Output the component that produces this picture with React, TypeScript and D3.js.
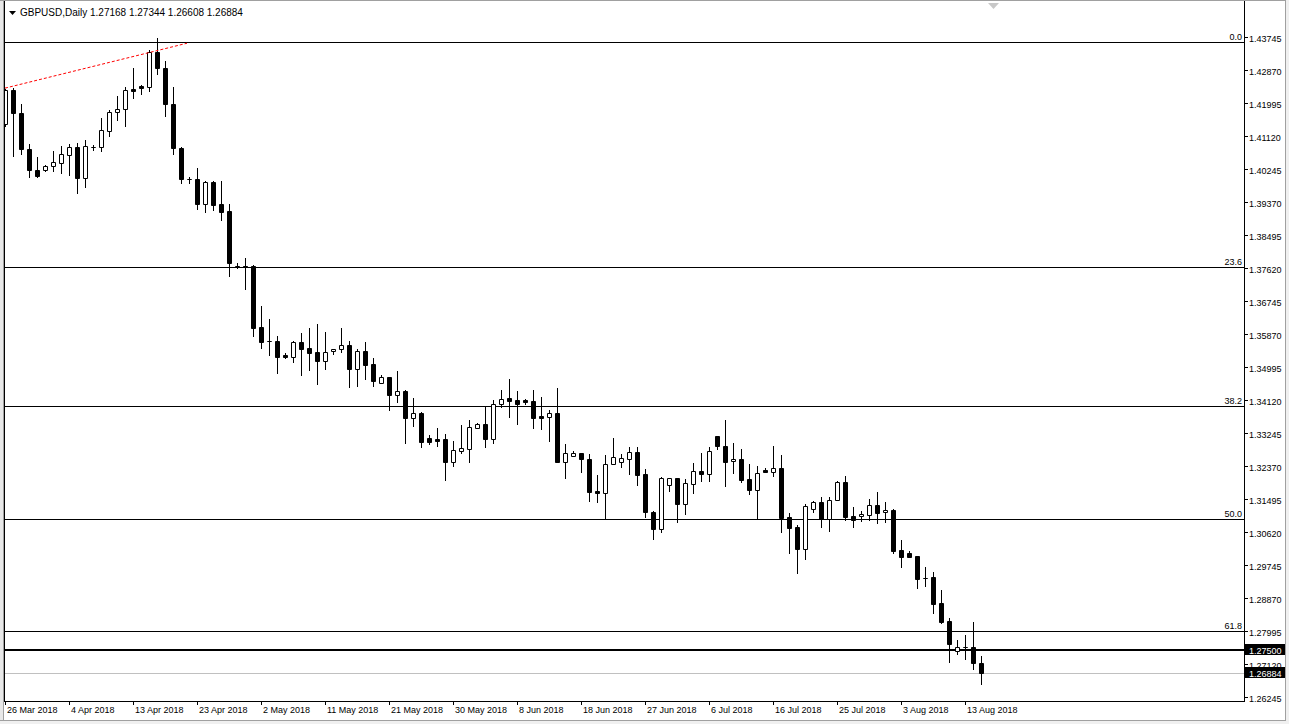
import React from "react";
import * as d3 from "d3";

// daily GBPUSD bars (broker with Sunday bars), from 26 Mar 2018
const opens = [
  1.4144, 1.4234, 1.4173, 1.4078, 1.4022, 1.4022, 1.4033, 1.4041, 1.4062, 1.4083,
  1.4001, 1.4083, 1.4083, 1.4125, 1.4176, 1.4184, 1.4237, 1.4245, 1.4242, 1.4335,
  1.4292, 1.4197, 1.408, 1.3998, 1.3998, 1.3932, 1.399, 1.3932, 1.3913, 1.3768,
  1.3768, 1.3768, 1.3606, 1.3569, 1.3569, 1.3532, 1.3526, 1.3566, 1.355, 1.354,
  1.3516, 1.3542, 1.3548, 1.3558, 1.3495, 1.3542, 1.3508, 1.3458, 1.3473, 1.3426,
  1.3436, 1.3365, 1.3378, 1.3312, 1.3309, 1.3309, 1.3248, 1.3277, 1.3283, 1.3338,
  1.3349, 1.3309, 1.3402, 1.3418, 1.3413, 1.3413, 1.341, 1.337, 1.3367, 1.3378,
  1.3248, 1.3264, 1.3272, 1.3256, 1.3171, 1.3166, 1.3243, 1.3248, 1.3256, 1.3275,
  1.3216, 1.3116, 1.3071, 1.3187, 1.3206, 1.3137, 1.319, 1.3224, 1.3216, 1.3317,
  1.3291, 1.3251, 1.3256, 1.3203, 1.3174, 1.3227, 1.3222, 1.3232, 1.3102, 1.3076,
  1.3018, 1.3124, 1.3142, 1.3097, 1.3148, 1.3195, 1.3105, 1.3105, 1.3108, 1.3134,
  1.3116, 1.3121, 1.3015, 1.3007, 1.2999, 1.2941, 1.2943, 1.2875, 1.2827, 1.2747,
  1.2758, 1.2758, 1.27168,
];
const highs = [
  1.4237, 1.4239, 1.4197, 1.4091, 1.4056, 1.4035, 1.4072, 1.4086, 1.4091, 1.4094,
  1.4102, 1.4088, 1.416, 1.4181, 1.4218, 1.4242, 1.4292, 1.4246, 1.434, 1.4372,
  1.4311, 1.4242, 1.4083, 1.4003, 1.4027, 1.3993, 1.3993, 1.3993, 1.3932, 1.3776,
  1.3789, 1.377, 1.3662, 1.3627, 1.3582, 1.3537, 1.3569, 1.359, 1.3603, 1.3614,
  1.3593, 1.3548, 1.3603, 1.3569, 1.3548, 1.3566, 1.3524, 1.3479, 1.3474, 1.3489,
  1.3439, 1.3418, 1.3381, 1.332, 1.3338, 1.3322, 1.3304, 1.3346, 1.336, 1.3352,
  1.3394, 1.3413, 1.3439, 1.3468, 1.3436, 1.3414, 1.3439, 1.342, 1.3386, 1.3444,
  1.3296, 1.3277, 1.3273, 1.3269, 1.3214, 1.3267, 1.3312, 1.3269, 1.3288, 1.3288,
  1.323, 1.3118, 1.3208, 1.3207, 1.3207, 1.3203, 1.3246, 1.3272, 1.3288, 1.3318,
  1.336, 1.3299, 1.3283, 1.3243, 1.3238, 1.3232, 1.3291, 1.3267, 1.3113, 1.3081,
  1.3137, 1.3145, 1.3155, 1.3155, 1.3198, 1.3211, 1.3129, 1.3118, 1.315, 1.3169,
  1.3142, 1.3124, 1.3042, 1.3012, 1.3, 1.297, 1.2957, 1.2909, 1.2835, 1.2777,
  1.279, 1.2824, 1.27344,
];
const lows = [
  1.4139, 1.4059, 1.4064, 1.4003, 1.4003, 1.4019, 1.4019, 1.4014, 1.4009, 1.3961,
  1.3977, 1.4075, 1.4072, 1.4112, 1.4155, 1.4139, 1.4213, 1.4223, 1.4231, 1.4276,
  1.4165, 1.4064, 1.3988, 1.3988, 1.3919, 1.3911, 1.3916, 1.389, 1.3741, 1.3762,
  1.3707, 1.3582, 1.355, 1.3532, 1.3484, 1.3524, 1.3513, 1.3479, 1.3492, 1.3455,
  1.3495, 1.3534, 1.354, 1.3447, 1.345, 1.3468, 1.345, 1.3458, 1.3386, 1.3407,
  1.3299, 1.3344, 1.3288, 1.3296, 1.3291, 1.3201, 1.3238, 1.3272, 1.3248, 1.3338,
  1.3288, 1.3299, 1.3394, 1.3367, 1.3349, 1.3402, 1.3338, 1.3336, 1.3304, 1.3247,
  1.3206, 1.3263, 1.3222, 1.3145, 1.3142, 1.3097, 1.3242, 1.3235, 1.3216, 1.3187,
  1.3102, 1.3044, 1.3063, 1.3171, 1.3089, 1.311, 1.3166, 1.3198, 1.3198, 1.3283,
  1.3185, 1.3219, 1.3195, 1.3163, 1.3097, 1.3222, 1.3211, 1.3063, 1.3007, 1.2954,
  1.2991, 1.3116, 1.3076, 1.3065, 1.3147, 1.3095, 1.3076, 1.3092, 1.3095, 1.3087,
  1.3089, 1.3007, 1.297, 1.2996, 1.2914, 1.292, 1.2848, 1.2822, 1.2718, 1.2739,
  1.2726, 1.27, 1.26608,
];
const closes = [
  1.4234, 1.4173, 1.4078, 1.4022, 1.4006, 1.4033, 1.4043, 1.4064, 1.4083, 1.4001,
  1.4086, 1.4084, 1.4128, 1.4176, 1.4184, 1.4234, 1.4231, 1.4239, 1.4335, 1.4292,
  1.4197, 1.408, 1.3998, 1.3997, 1.3932, 1.399, 1.3929, 1.3911, 1.3776, 1.3767,
  1.3766, 1.3603, 1.3566, 1.3568, 1.3526, 1.3526, 1.3566, 1.3548, 1.3537, 1.3516,
  1.354, 1.3548, 1.3558, 1.3495, 1.3542, 1.3505, 1.3463, 1.3473, 1.3426, 1.3436,
  1.3365, 1.3378, 1.3301, 1.3301, 1.3304, 1.3248, 1.328, 1.3285, 1.3341, 1.3349,
  1.3309, 1.3402, 1.3415, 1.341, 1.3402, 1.3407, 1.3365, 1.3365, 1.3378, 1.3248,
  1.3272, 1.3272, 1.3256, 1.3169, 1.3166, 1.3243, 1.3261, 1.3259, 1.3275, 1.3214,
  1.3116, 1.3071, 1.3206, 1.3206, 1.3137, 1.3193, 1.3224, 1.3216, 1.3277, 1.3291,
  1.3248, 1.3256, 1.3201, 1.3174, 1.3219, 1.3222, 1.3232, 1.31, 1.3073, 1.3018,
  1.3132, 1.3142, 1.3097, 1.3148, 1.3195, 1.3102, 1.3095, 1.311, 1.3134, 1.3113,
  1.3121, 1.3012, 1.2996, 1.2996, 1.2938, 1.294, 1.2872, 1.2824, 1.2766, 1.2758,
  1.2757, 1.2716, 1.26884,
];

const priceTicks = [
  "1.43745", "1.42870", "1.41995", "1.41120", "1.40245", "1.39370", "1.38495",
  "1.37620", "1.36745", "1.35870", "1.34995", "1.34120", "1.33245", "1.32370",
  "1.31495", "1.30620", "1.29745", "1.28870", "1.27995", "1.27120", "1.26245",
];

// fibonacci retracement anchors and levels
const fibHigh = 1.4361;
const fibLow = 1.1836;
const fibLevels = [0, 23.6, 38.2, 50.0, 61.8];

// trend line anchors (bar index, price)
const trendStart = { bar: 0, price: 1.4239 };
const trendEnd = { bar: 22.75, price: 1.4358 };

const levelLine = 1.275;
const bidPrice = 1.26884;
const headerValues = ["1.27168", "1.27344", "1.26608", "1.26884"];

const W = 1289;
const H = 724;
const plotLeft = 4;
const plotRight = 1244;
const plotBottom = 701;
const FONT = "'Liberation Sans', Arial, sans-serif";

// bar dates: weekdays plus Sunday sessions
const dates: Date[] = [];
{
  let d = new Date(2018, 2, 26);
  while (dates.length < opens.length) {
    if (d.getDay() !== 6) dates.push(new Date(d));
    d = d3.timeDay.offset(d, 1);
  }
}
const fmtDate = d3.timeFormat("%-d %b %Y");

export default function App() {
  const x = d3.scaleLinear().domain([0, opens.length - 1]).range([5, 5 + 8 * (opens.length - 1)]);
  const y = d3.scaleLinear().domain([1.26245, 1.43745]).range([697.4, 37.0]);
  const py = (p: number) => Math.round(y(p)) + 0.5;

  const candles = opens.map((o, i) => {
    const c = closes[i];
    const cx = Math.round(x(i));
    const top = Math.round(y(Math.max(o, c)));
    const bot = Math.round(y(Math.min(o, c)));
    const bull = c >= o;
    return (
      <g key={i}>
        <line
          x1={cx + 0.5}
          x2={cx + 0.5}
          y1={Math.round(y(highs[i]))}
          y2={Math.round(y(lows[i])) + 1}
          stroke="#000"
        />
        <path
          d={`M${cx - 1.5},${top + 0.5}H${cx + 2.5}V${bot + 0.5}H${cx - 1.5}Z`}
          fill={bull ? "#fff" : "#000"}
          stroke="#000"
        />
      </g>
    );
  });

  const fibPrice = (lvl: number) => fibHigh - ((fibHigh - fibLow) * lvl) / 100;

  const dateTicks = dates.map((d, i) => ({ d, i })).filter((t) => t.i % 8 === 0);

  return (
    <svg
      width={W}
      height={H}
      style={{ position: "absolute", left: 0, top: 0, display: "block", background: "#fff" }}
      fontFamily={FONT}
    >
      <defs>
        <clipPath id="plot">
          <rect x={plotLeft + 1} y={0} width={plotRight - plotLeft - 1} height={plotBottom} />
        </clipPath>
      </defs>
      <rect width={W} height={H} fill="#fff" />

      {/* fibonacci lines */}
      {fibLevels.map((l) => (
        <g key={l}>
          <line x1={plotLeft} x2={plotRight} y1={py(fibPrice(l))} y2={py(fibPrice(l))} stroke="#000" />
          <text x={plotRight - 2} y={py(fibPrice(l)) - 2.5} fontSize={9} textAnchor="end" fill="#000">
            {l.toFixed(1)}
          </text>
        </g>
      ))}

      {/* horizontal level + bid */}
      <line x1={plotLeft} x2={plotRight} y1={Math.round(y(levelLine))} y2={Math.round(y(levelLine))} stroke="#000" strokeWidth={2} />
      <line x1={plotLeft} x2={plotRight} y1={py(bidPrice)} y2={py(bidPrice)} stroke="#c0c0c0" />

      <g clipPath="url(#plot)">
        {candles}
        <line
          x1={x(trendStart.bar)}
          y1={y(trendStart.price)}
          x2={x(trendEnd.bar)}
          y2={y(trendEnd.price)}
          stroke="#ff0000"
          strokeDasharray="3,2"
        />
      </g>

      {/* header */}
      <path d="M9,11H16L12.5,15Z" fill="#000" />
      <text x={20} y={16} fontSize={10} fill="#000">
        GBPUSD,Daily
      </text>
      <text x={90} y={16} fontSize={10} fill="#000">
        {headerValues.join(" ")}
      </text>
      <path d="M988,3H999L993.5,9Z" fill="#c8c8c8" />

      {/* price axis */}
      <line x1={plotRight + 0.5} x2={plotRight + 0.5} y1={0} y2={plotBottom + 1} stroke="#000" />
      {priceTicks.map((t) => {
        const yy = Math.round(y(+t));
        return (
          <g key={t}>
            <line x1={plotRight} x2={plotRight + 4} y1={yy + 0.5} y2={yy + 0.5} stroke="#000" />
            <text x={1249} y={yy + 5} fontSize={9} fill="#000">
              {t}
            </text>
          </g>
        );
      })}
      {[levelLine, bidPrice].map((p) => {
        const yy = Math.round(y(p));
        return (
          <g key={p}>
            <rect x={1245} y={yy - 6} width={40} height={11} fill="#000" />
            <text x={1249} y={yy + 3.5} fontSize={9} fill="#fff">
              {p.toFixed(5)}
            </text>
          </g>
        );
      })}

      {/* time axis */}
      <line x1={plotLeft} x2={plotRight + 1} y1={plotBottom + 0.5} y2={plotBottom + 0.5} stroke="#000" />
      {dateTicks.map((t) => {
        const xx = Math.round(x(t.i));
        return (
          <g key={t.i}>
            <line x1={xx + 0.5} x2={xx + 0.5} y1={plotBottom} y2={plotBottom + 4} stroke="#000" />
            <text x={xx + 2} y={713} fontSize={9} fill="#000">
              {fmtDate(t.d)}
            </text>
          </g>
        );
      })}

      {/* window frame */}
      <rect x={0} y={0} width={3} height={H} fill="#e8e8e8" />
      <line x1={3.5} x2={3.5} y1={0} y2={720} stroke="#a0a0a0" />
      <line x1={4.5} x2={4.5} y1={0} y2={plotBottom} stroke="#000" />
      <line x1={0} x2={W} y1={0.5} y2={0.5} stroke="#a0a0a0" />
      <rect x={0} y={720} width={W} height={4} fill="#f0f0f0" />
      <line x1={0} x2={W} y1={720.5} y2={720.5} stroke="#a0a0a0" />
      <rect x={1286} y={0} width={3} height={H} fill="#f0f0f0" />
      <line x1={1285.5} x2={1285.5} y1={0} y2={721} stroke="#a0a0a0" />
    </svg>
  );
}
